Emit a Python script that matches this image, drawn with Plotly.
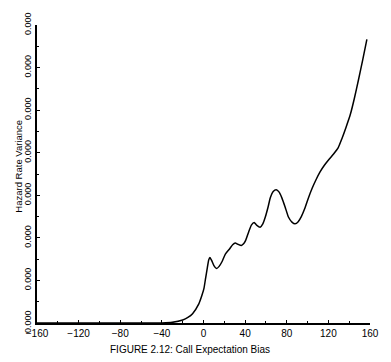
import plotly.graph_objects as go

# Call expectation bias versus hazard rate variance
bias = [-160, -60, -40, -30, -20, -15, -10.5, -4.5, -1.5, 0.5, 2, 3.7, 5,
        6.2, 8, 10, 12.5, 15, 18, 21, 25, 28, 30.5, 33, 36.4, 38.5, 40.5,
        43.4, 46, 48.7, 51, 54.4, 57, 59.4, 62, 64.2, 67, 69.9, 72.5, 75.3,
        78.5, 81.6, 85, 88, 91, 94, 97.5, 101, 104.5, 108, 112, 116, 120.5,
        125, 129.5, 133, 137, 141, 145, 149, 153, 157]
variance_e4 = [0, 0, 0.002, 0.015, 0.07, 0.13, 0.22, 0.45, 0.65, 0.82, 1.05,
               1.30, 1.48, 1.54, 1.46, 1.35, 1.28, 1.33, 1.45, 1.62, 1.74,
               1.84, 1.88, 1.85, 1.82, 1.86, 1.94, 2.14, 2.30, 2.36, 2.30,
               2.25, 2.33, 2.49, 2.72, 2.94, 3.09, 3.13, 3.08, 2.94, 2.72,
               2.49, 2.37, 2.33, 2.38, 2.50, 2.70, 2.95, 3.17, 3.36, 3.55,
               3.70, 3.84, 3.97, 4.12, 4.33, 4.60, 4.89, 5.28, 5.72, 6.18,
               6.66]
variance = [v * 1e-4 for v in variance_e4]

x_ticks = [-160, -120, -80, -40, 0, 40, 80, 120, 160]
y_ticks = [0, 1e-4, 2e-4, 3e-4, 4e-4, 5e-4, 6e-4, 7e-4]
y_tick_labels = ["0.000"] * len(y_ticks)

FONT = "Liberation Sans"

fig = go.Figure()
fig.add_trace(go.Scatter(
    x=bias, y=variance, mode="lines",
    line=dict(color="black", width=1.5, shape="spline", smoothing=0.5),
    hoverinfo="skip", showlegend=False,
))

fig.update_layout(
    width=391, height=362,
    margin=dict(l=37, r=19, t=14, b=39),
    paper_bgcolor="white", plot_bgcolor="white",
    font=dict(family=FONT, size=9, color="black"),
    xaxis=dict(
        range=[-160, 160], tickvals=x_ticks,
        ticks="inside", ticklen=3, tickwidth=1, tickcolor="black",
        minor=dict(dtick=20, ticks="inside", ticklen=2, tickcolor="black"),
        showline=True, linecolor="black", linewidth=2,
        showgrid=False, zeroline=False,
        tickfont=dict(family=FONT, size=10),
    ),
    yaxis=dict(
        range=[0, 7e-4], tickvals=y_ticks, ticktext=y_tick_labels,
        ticks="inside", ticklen=3, tickwidth=1, tickcolor="black",
        minor=dict(dtick=0.5e-4, ticks="inside", ticklen=2, tickcolor="black"),
        showline=True, linecolor="black", linewidth=2,
        showgrid=False, zeroline=False,
        tickangle=-90, tickfont=dict(family=FONT, size=9),
    ),
    annotations=[
        dict(text="FIGURE 2.12: Call Expectation Bias", xref="paper",
             yref="paper", x=0.46, y=-0.09, xanchor="center", yanchor="middle",
             showarrow=False, font=dict(family=FONT, size=10)),
        dict(text="Hazard Rate Variance", xref="paper", yref="paper",
             x=-0.055, y=0.527, xanchor="center", yanchor="middle",
             textangle=-90, showarrow=False, font=dict(family=FONT, size=9.5)),
    ],
)

fig.write_html("out.html")
